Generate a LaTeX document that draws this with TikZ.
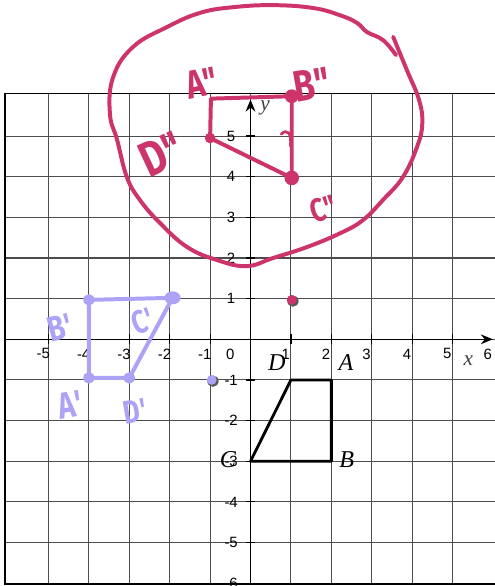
\documentclass[tikz,border=0pt]{standalone}
\usepackage{fontspec}
\setmainfont{Liberation Serif}
\setsansfont{Liberation Sans}
\newfontfamily\handfont{Fira Sans}
\usetikzlibrary{arrows.meta, positioning}
\definecolor{crimson}{RGB}{205,52,108}
\definecolor{lavender}{RGB}{172,162,246}
\newcommand{\handtext}[2]{{\fontsize{#1}{#1}\selectfont\scalebox{0.78}[1]{#2}}}

\begin{document}
\begin{tikzpicture}[
x=1cm, y=1.006cm,
gridline/.style={black!70, line width=0.75pt},
axis/.style={-{Stealth[length=3mm,width=2.4mm]}, line width=1.1pt},
tickmark/.style={line width=0.8pt},
num/.style={font=\sffamily\fontsize{10.5}{10.5}\selectfont, inner sep=0pt},
vlabel/.style={font=\itshape\fontsize{17}{17}\selectfont, inner sep=0pt},
axlabel/.style={font=\itshape\fontsize{15}{15}\selectfont, text=black!75, inner sep=0pt},
quad/.style={line width=2pt, line join=round},
pink/.style={draw=crimson, line width=2.8pt, line cap=round, line join=round},
lilac/.style={draw=lavender, line width=2.8pt, line cap=round, line join=round},
hand/.style={font=\handfont\bfseries, inner sep=0pt},
]

\useasboundingbox (-6.2,-6.069) rectangle (6.03,8.347);

\foreach \i in {-5,...,5}
  \draw[gridline] (\i,-6.02) -- (\i,6.05);
\foreach \j in {-5,...,5}
  \draw[gridline] (-6.08,\j) -- (6.1,\j);
\draw[line width=1.1pt] (6.1,6.05) -- (-6.08,6.05) -- (-6.08,-6.02) -- (6.1,-6.02);

\coordinate (xstart) at (-6.08,0);
\coordinate (xend) at (6.0,0);
\coordinate (ystart) at (0,-6.02);
\coordinate (yend) at (0,5.9);
\draw[axis] (xstart) -- (xend);
\draw[axis] (ystart) -- (yend);

\foreach \i in {-5,...,5} {
  \draw[tickmark] (\i,-0.12) -- (\i,0.12);
  \draw[tickmark] (-0.12,\i) -- (0.12,\i);
}
\foreach \i in {-5,...,-1,1,2,...,6}
  \node[num] (xl\i) at (\i-0.13,-0.36) {\i};
\foreach \j in {-6,...,-1,1,2,...,5}
  \node[num] (yl\j) at (-0.48,\j) {\j};
\node[num] (zero) at (-0.5,-0.36) {0};
\node[axlabel] (xlab) at (5.39,-0.52) {x};
\node[axlabel] (ylab) at (0.36,5.69) {y};

\coordinate (a) at (2,-1);
\coordinate (b) at (2,-3);
\coordinate (c) at (0,-3);
\coordinate (d) at (1,-1);
\draw[quad] (d) -- (a) -- (b) -- (c) -- cycle;
\node[vlabel] (la) at (2.36,-0.58) {A};
\node[vlabel] (lb) at (2.38,-2.97) {B};
\node[vlabel] (lc) at (-0.56,-2.97) {C};
\node[vlabel] (ld) at (0.65,-0.58) {D};

\coordinate (a1) at (-4,-0.95);
\coordinate (b1) at (-4,0.97);
\coordinate (c1) at (-1.93,1.02);
\coordinate (d1) at (-3,-0.95);
\draw[lilac] (b1) -- (c1) -- (d1) -- (a1) -- cycle;
\fill[lavender] (b1) circle (0.14);
\fill[lavender] (c1) ellipse (0.2 and 0.16);
\fill[lavender] (a1) circle (0.14);
\fill[lavender] (d1) circle (0.14);
\node[hand, text=lavender, rotate=15] (lb1) at (-4.72,0.28) {\handtext{25}{B\textquotesingle}};
\node[hand, text=lavender, rotate=20] (lc1) at (-2.68,0.45) {\handtext{23}{C\textquotesingle}};
\node[hand, text=lavender, rotate=10] (la1) at (-4.47,-1.62) {\handtext{26}{A\textquotesingle}};
\node[hand, text=lavender, rotate=10] (ld1) at (-2.86,-1.78) {\handtext{23}{D\textquotesingle}};

\coordinate (p1) at (-0.96,-1);
\fill[black!65] (p1) ++(0.03,-0.03) circle (0.14);
\fill[lavender] (p1) circle (0.12);
\coordinate (p2) at (1.02,0.97);
\fill[black!65] (p2) ++(0.03,-0.03) circle (0.14);
\fill[crimson] (p2) circle (0.12);

\coordinate (a2) at (-0.98,5.92);
\coordinate (b2) at (1.02,5.98);
\coordinate (c2) at (1.02,3.97);
\coordinate (d2) at (-1,4.95);
\draw[pink] (d2) -- (a2) -- (b2) -- (c2) -- cycle;
\draw[pink, line width=2pt] (0.76,5.05) .. controls (0.9,5.18) and (1.02,5.1) .. (0.99,4.75);
\fill[crimson] (b2) circle (0.17);
\fill[crimson] (d2) circle (0.13);
\fill[crimson] (c2) circle (0.18);
\node[hand, text=crimson, rotate=12] (la2) at (-1.2,6.3) {\handtext{28}{A"}};
\node[hand, text=crimson, rotate=10] (lb2) at (1.52,6.26) {\handtext{31}{B"}};
\node[hand, text=crimson, rotate=18] (lc2) at (1.8,3.2) {\handtext{23}{C"}};
\node[hand, text=crimson, rotate=25] (ld2) at (-2.2,4.55) {\handtext{35}{D"}};

\draw[pink] plot[smooth, tension=0.7] coordinates {
  (3.53,7.44) (3.87,6.62) (4.17,5.89) (4.25,5.3) (4.12,4.73) (3.77,3.99)
  (3.28,3.43) (2.78,2.93) (2.22,2.61) (1.40,2.27) (0.56,2.00) (-0.1,1.8)
  (-0.83,1.95) (-1.57,2.27) (-2.24,2.86) (-2.74,3.43) (-3.06,3.99) (-3.30,4.90)
  (-3.48,5.55) (-3.40,6.45) (-2.91,7.19) (-2.07,7.68) (-1.25,8.03) (-0.43,8.17)
  (0.56,8.22) (1.55,8.15) (2.22,7.97) (2.64,7.78) (2.88,7.56) (3.28,7.36) (3.60,6.99)};

\end{tikzpicture}
\end{document}
